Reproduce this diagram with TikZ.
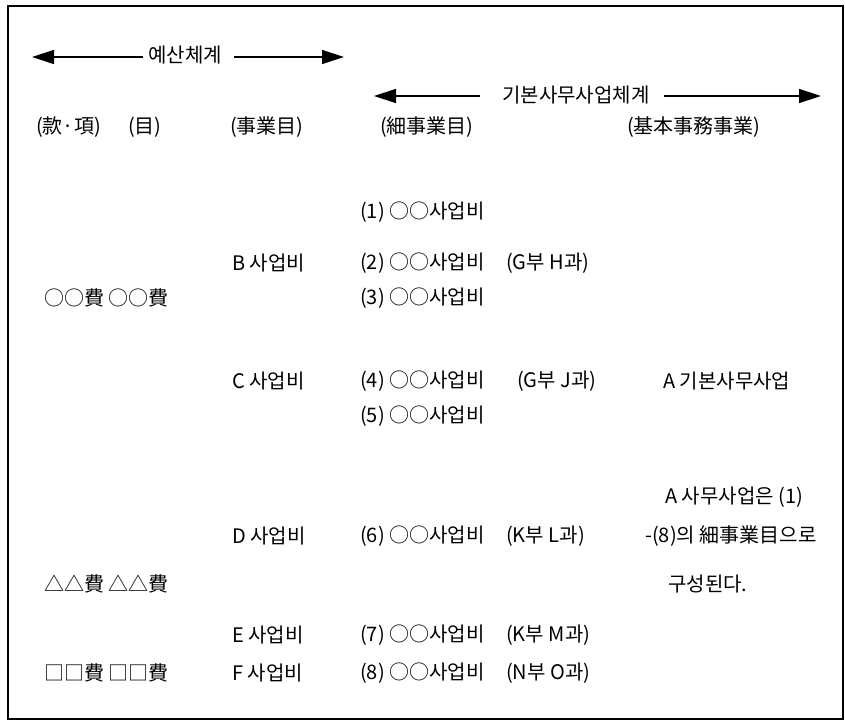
\documentclass[tikz,border=0pt]{standalone}
\usepackage{fontspec}
\setmainfont{Noto Sans CJK KR}
\usetikzlibrary{arrows.meta}

\tikzset{
  txt/.style={anchor=west, inner sep=0pt},
  arr/.style={line width=1.3pt, -{Triangle[length=22pt,width=14pt]}}
}

\begin{document}
\begin{tikzpicture}[x=1pt,y=-1pt,font=\fontsize{20}{22}\selectfont]

\useasboundingbox (0,0) rectangle (845,722);
\draw[line width=1.6pt] (8,6) rectangle (843,719);

% arrows
\node[txt] (ys) at (148,55) {예산체계};
\coordinate (ysL) at (32,57);
\coordinate (ysR) at (344,57);
\draw[arr] ([xshift=-5pt]ys.west|-ysL) -- (ysL);
\draw[arr] ([xshift=12pt]ys.east|-ysR) -- (ysR);

\node[txt] (gb) at (502,95) {기본사무사업체계};
\coordinate (gbL) at (374,96);
\coordinate (gbR) at (821,96);
\draw[arr] ([xshift=-22pt]gb.west|-gbL) -- (gbL);
\draw[arr] ([xshift=14pt]gb.east|-gbR) -- (gbR);

% headers
\node[txt] (h1) at (36,127) {(款·項)};
\node[txt] (h2) at (128,127) {(目)};
\node[txt] (h3) at (230,127) {(事業目)};
\node[txt] (h4) at (380,127) {(細事業目)};
\node[txt] (h5) at (627,127) {(基本事務事業)};

% budget items
\node[txt] (k1) at (44,298) {○○費 ○○費};
\node[txt] (k2) at (44,584) {△△費 △△費};
\node[txt] (k3) at (44,673) {□□費 □□費};

% business items
\node[txt] (b) at (232,263) {B 사업비};
\node[txt] (c) at (232,381) {C 사업비};
\node[txt] (d) at (232,536) {D 사업비};
\node[txt] (e) at (232,635) {E 사업비};
\node[txt] (f) at (232,673) {F 사업비};

% detailed items
\node[txt] (s1) at (360,212) {(1) ○○사업비};
\node[txt] (s2) at (360,263) {(2) ○○사업비};
\node[txt] (s3) at (360,298) {(3) ○○사업비};
\node[txt] (s4) at (360,381) {(4) ○○사업비};
\node[txt] (s5) at (360,416) {(5) ○○사업비};
\node[txt] (s6) at (360,536) {(6) ○○사업비};
\node[txt] (s7) at (360,635) {(7) ○○사업비};
\node[txt] (s8) at (360,673) {(8) ○○사업비};

\node[txt] (p2) at (506,263) {(G부 H과)};
\node[txt] (p4) at (517,381) {(G부 J과)};
\node[txt] (p6) at (506,536) {(K부 L과)};
\node[txt] (p7) at (506,635) {(K부 M과)};
\node[txt] (p8) at (506,673) {(N부 O과)};

% basic business
\node[txt] (a1) at (663,381) {A 기본사무사업};
\node[txt] (a2) at (665,497) {A 사무사업은 (1)};
\node[txt] (a3) at (645,536) {-(8)의 細事業目으로};
\node[txt] (a4) at (668,584) {구성된다.};

\end{tikzpicture}
\end{document}
